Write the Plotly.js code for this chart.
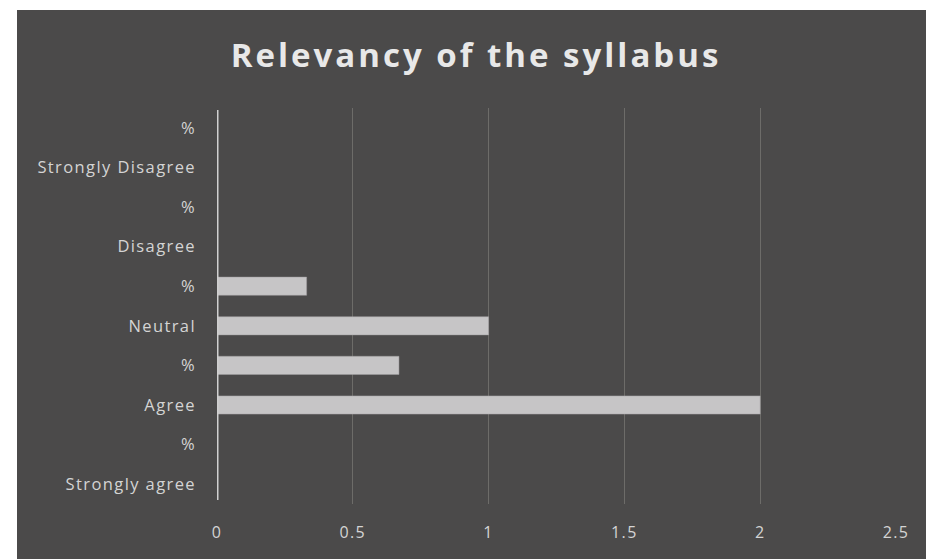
<!DOCTYPE html>
<html>
<head>
<meta charset="utf-8">
<script src="https://cdn.plot.ly/plotly-3.0.1.min.js"></script>
<style>
  html, body { margin: 0; padding: 0; background: #ffffff; }
  #chart { position: absolute; left: 17px; top: 10px; width: 909px; height: 549px; }
  #chart .gtitle { letter-spacing: 3px; }
  #chart .ytick text, #chart .xtick text { letter-spacing: 1.4px; }
</style>
</head>
<body>
<div id="chart"></div>
<script>
// Response categories, listed bottom to top
const categories = ["Strongly agree", "%", "Agree", "%", "Neutral", "%", "Disagree", "%", "Strongly Disagree", "%"];
// Number of responses (and share rows) for each category
const values = [null, null, 2, 0.67, 1, 0.33, null, null, null, null];
const xTicks = [0, 0.5, 1, 1.5, 2, 2.5];
const xTickLabels = ["0", "0.5", "1", "1.5", "2", "2.5"];

const rowIndex = categories.map((_, i) => i);

const trace = {
  type: "bar",
  orientation: "h",
  x: values,
  y: rowIndex,
  width: 0.46,
  marker: { color: "#c6c5c6", line: { color: "#a09fa0", width: 0.5 } },
  hoverinfo: "x+text",
  text: categories,
  textposition: "none"
};

const layout = {
  width: 909,
  height: 549,
  margin: { l: 200, r: 30, t: 98, b: 55, pad: 0 },
  paper_bgcolor: "#4b4a4a",
  plot_bgcolor: "#4b4a4a",
  showlegend: false,
  title: {
    text: "<b>Relevancy of the syllabus</b>",
    font: { family: "Open Sans, sans-serif", size: 33, color: "#e8e8e8" },
    x: 0.505,
    xanchor: "center",
    y: 0.918,
    yanchor: "middle"
  },
  xaxis: {
    range: [0, 2.5],
    tickvals: xTicks,
    ticktext: xTickLabels,
    showgrid: true,
    gridcolor: "rgba(210,210,200,0.25)",
    gridwidth: 1,
    zeroline: false,
    showline: false,
    ticks: "",
    tickfont: { family: "Open Sans, sans-serif", size: 16, color: "#d4d4d4" },
    ticklabelstandoff: 17
  },
  yaxis: {
    range: [-0.5, 9.5],
    tickvals: rowIndex,
    ticktext: categories,
    showgrid: false,
    zeroline: false,
    showline: false,
    ticks: "",
    tickfont: { family: "Open Sans, sans-serif", size: 16.5, color: "#d4d4d4" },
    ticklabelstandoff: 20
  },
  shapes: [
    {
      type: "line", xref: "x", yref: "paper",
      x0: 0, x1: 0, y0: 0.01, y1: 0.995,
      line: { color: "#d0d0d0", width: 3 }
    }
  ]
};

Plotly.newPlot("chart", [trace], layout, { displayModeBar: false, staticPlot: true });
</script>
</body>
</html>
